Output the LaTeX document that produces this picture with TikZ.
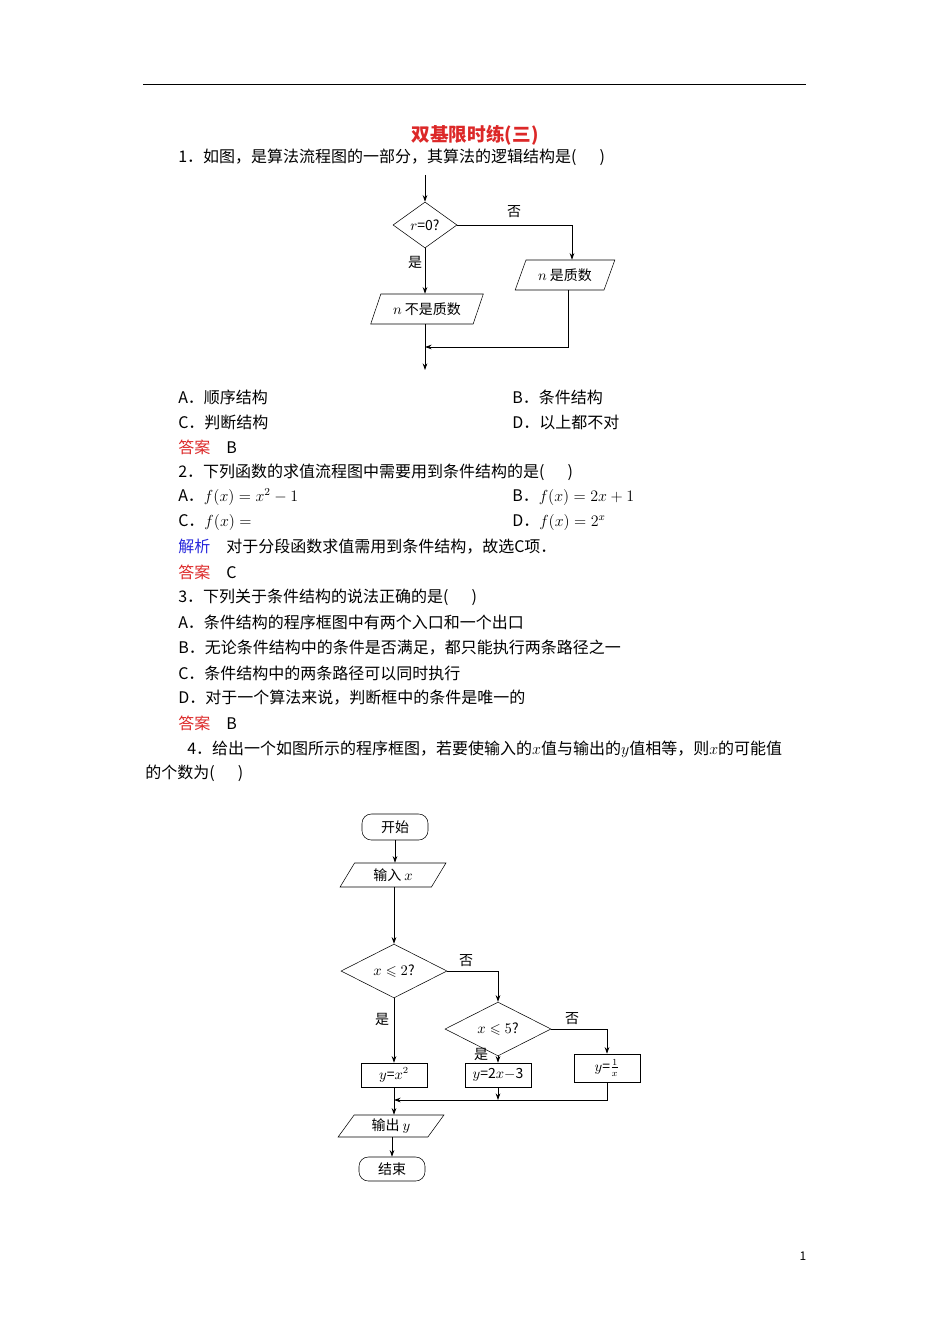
\documentclass[tikz,border=0pt]{standalone}
\usepackage{amssymb}
\usepackage{fontspec}
\setmainfont{Noto Sans CJK SC}
\usetikzlibrary{shapes.geometric,arrows.meta}
\definecolor{ansred}{RGB}{220,40,40}
\definecolor{ansblue}{RGB}{40,40,220}
\tikzset{
  txt/.style={anchor=west,inner sep=0pt,font=\fontsize{12}{14}\selectfont},
  fc/.style={font=\fontsize{10.5}{12}\selectfont,inner sep=0pt},
  dia/.style={fc,draw,diamond},
  para/.style={fc,draw,trapezium,trapezium left angle=60,trapezium right angle=120,trapezium stretches=true},
  box/.style={fc,draw,rectangle},
  term/.style={fc,draw,rectangle,rounded corners=7pt},
  arr/.style={-{Stealth[length=5pt,width=3.5pt]},line width=0.6pt},
  ln/.style={line width=0.6pt},
  lab/.style={fc}
}
\begin{document}
\begin{tikzpicture}[x=0.75pt,y=-0.75pt]
\useasboundingbox (0,0) rectangle (950,1344);
\draw[line width=0.6pt] (143,84) -- (806,84);
\node[font=\fontsize{14}{16}\selectfont\bfseries,text=ansred] (title) at (475,135) {双基限时练(三)};
\node[txt] (l1) at (178,157) {1．如图，是算法流程图的一部分，其算法的逻辑结构是(\quad\ \ )};
% flowchart 1
\coordinate (s1) at (425,175);
\node[dia,minimum width=48pt,minimum height=34.5pt] (d1) at (425,225) {$r$=0?};
\node[para,minimum width=75pt,minimum height=22.5pt] (p1) at (565,275) {$n$ 是质数};
\node[para,minimum width=85pt,minimum height=22.5pt] (p2) at (427,309) {$n$ 不是质数};
\coordinate (m1) at (425,347);
\coordinate (e1) at (425,370);
\draw[arr] (s1) -- (d1.north);
\draw[arr] (d1.east) -| (p1.north -| 572,0);
\draw[arr] (d1.south) -- (p2.north -| d1.south);
\draw[arr] (p1.south -| 568,0) |- (m1);
\draw[arr] (p2.south -| d1.south) -- (e1);
\node[lab] (no1) at (514,212) {否};
\node[lab] (yes1) at (415,262) {是};
% text
\node[txt] (a1) at (178,397) {A．顺序结构};
\node[txt] (b1) at (512,397) {B．条件结构};
\node[txt] (c1) at (178,422) {C．判断结构};
\node[txt] (d1t) at (512,422) {D．以上都不对};
\node[txt] (ans1) at (178,447) {\textcolor{ansred}{答案}\quad B};
\node[txt] (l2) at (178,472) {2．下列函数的求值流程图中需要用到条件结构的是(\quad\ \ )};
\node[txt] (a2) at (178,497) {A．$f(x)=x^{2}-1$};
\node[txt] (b2) at (512,497) {B．$f(x)=2x+1$};
\node[txt] (c2) at (178,522) {C．$f(x)=$};
\node[txt] (d2) at (512,522) {D．$f(x)=2^{x}$};
\node[txt] (jx) at (178,547) {\textcolor{ansblue}{解析}\quad 对于分段函数求值需用到条件结构，故选C项．};
\node[txt] (ans2) at (178,572) {\textcolor{ansred}{答案}\quad C};
\node[txt] (l3) at (178,597) {3．下列关于条件结构的说法正确的是(\quad\ \ )};
\node[txt] (a3) at (178,622) {A．条件结构的程序框图中有两个入口和一个出口};
\node[txt] (b3) at (178,648) {B．无论条件结构中的条件是否满足，都只能执行两条路径之一};
\node[txt] (c3) at (178,673) {C．条件结构中的两条路径可以同时执行};
\node[txt] (d3) at (178,698) {D．对于一个算法来说，判断框中的条件是唯一的};
\node[txt] (ans3) at (178,723) {\textcolor{ansred}{答案}\quad B};
\node[txt] (l4) at (187,749) {4．给出一个如图所示的程序框图，若要使输入的$x$值与输出的$y$值相等，则$x$的可能值};
\node[txt] (l4b) at (145,773) {的个数为(\quad\ \ )};
% flowchart 2
\node[term,minimum width=49.5pt,minimum height=19.5pt] (st) at (395,827) {开始};
\node[para,minimum width=79.5pt,minimum height=18pt] (in) at (393,875) {输入 $x$};
\node[dia,minimum width=79.5pt,minimum height=30pt] (q1) at (394,971) {$x\leqslant 2$?};
\node[dia,minimum width=79.5pt,minimum height=30pt] (q2) at (498,1029) {$x\leqslant 5$?};
\node[box,minimum width=49.5pt,minimum height=18pt] (bx1) at (394,1075) {$y$=$x^{2}$};
\node[box,minimum width=49.5pt,minimum height=18pt] (bx2) at (498,1075) {$y$=2$x$$-$3};
\node[box,minimum width=49.5pt,minimum height=21pt] (bx3) at (607,1068) {$y$=$\frac{1}{x}$};
\node[para,minimum width=79.5pt,minimum height=16.5pt] (out) at (391,1126) {输出 $y$};
\node[term,minimum width=49.5pt,minimum height=18pt] (en) at (392,1169) {结束};
\coordinate (m2) at (394,1100);
\draw[arr] (st) -- (in.north -| st.south);
\draw[arr] (in.south -| q1.north) -- (q1.north);
\draw[arr] (q1.east) -| (q2.north);
\draw[arr] (q2.east) -| (bx3.north);
\draw[arr] (q1.south) -- (bx1.north);
\draw[arr] (q2.south) -- (bx2.north);
\draw[arr] (bx2.south) -- (bx2.south |- m2);
\draw[arr] (bx3.south) |- (m2);
\draw[arr] (bx1.south) -- (out.north -| bx1.south);
\draw[arr] (out.south -| en.north) -- (en.north);
\node[lab] (no2) at (466,961) {否};
\node[lab] (no3) at (572,1019) {否};
\node[lab] (yes2) at (382,1019) {是};
\node[lab] (yes3) at (481,1054) {是};
\node[font=\fontsize{9}{10}\selectfont] (pg) at (803,1256) {1};
\end{tikzpicture}
\end{document}
